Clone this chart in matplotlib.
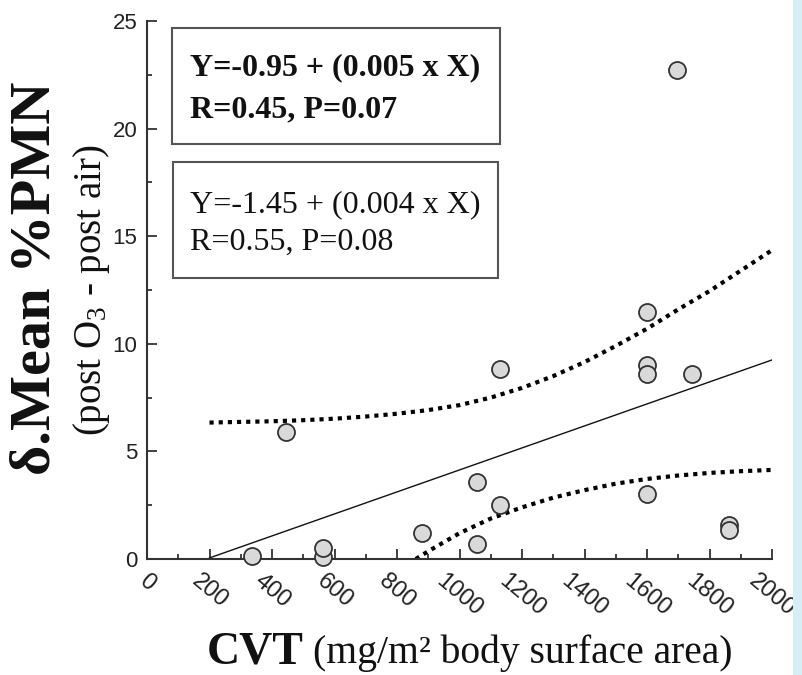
import matplotlib
matplotlib.use('Agg')
import matplotlib.pyplot as plt
from matplotlib.patches import Rectangle
from matplotlib.ticker import MultipleLocator

# scatter points
cvt = [337, 563, 563, 444, 881, 1055, 1055, 1130, 1130, 1599, 1599, 1599, 1599, 1695, 1743, 1863, 1863]
pmn = [0.15, 0.1, 0.5, 5.9, 1.2, 3.6, 0.7, 8.85, 2.5, 11.5, 9.0, 8.6, 3.0, 22.7, 8.6, 1.6, 1.35]

# fitted line end points
fit_x = [200, 2000]
fit_y = [0.05, 9.25]

# dotted confidence bands
upper_x = [200, 300, 400, 500, 600, 700, 800, 900, 1000, 1100, 1200, 1300, 1400, 1500, 1600, 1700, 1800, 1900, 2000]
upper_y = [6.34, 6.37, 6.4, 6.45, 6.52, 6.62, 6.75, 6.92, 7.15, 7.5, 7.95, 8.5, 9.15, 9.9, 10.7, 11.6, 12.45, 13.4, 14.35]
lower_x = [860, 900, 1000, 1100, 1200, 1300, 1400, 1500, 1600, 1700, 1800, 1900, 2000]
lower_y = [0.0, 0.36, 1.2, 1.88, 2.4, 2.85, 3.2, 3.5, 3.72, 3.88, 4.0, 4.08, 4.14]

box_bold = ['Y=-0.95 + (0.005 x X)', 'R=0.45, P=0.07']
box_plain = ['Y=-1.45 + (0.004 x X)', 'R=0.55, P=0.08']

x_ticks = list(range(0, 2001, 200))
y_ticks = [0, 5, 10, 15, 20, 25]

W, H = 803, 675
plt.rcParams['mathtext.fontset'] = 'custom'
plt.rcParams['mathtext.rm'] = 'Liberation Serif'
plt.rcParams['mathtext.it'] = 'Liberation Serif:italic'
plt.rcParams['mathtext.bf'] = 'Liberation Serif:bold'


def px(x, y):
    return x / W, 1 - y / H


fig = plt.figure(figsize=(W / 100, H / 100), dpi=100)
fig.patch.set_facecolor('white')
fig.patches.append(Rectangle(px(793, H), 10 / W, 1, transform=fig.transFigure,
                             facecolor='#d6eef5', edgecolor='none', zorder=0))

l, b = px(147, 559)
r, t = px(772, 21)
ax = fig.add_axes([l, b, r - l, t - b])
ax.set_xlim(0, 2000)
ax.set_ylim(0, 25)

ax.plot(fit_x, fit_y, color='#111111', lw=1.0, zorder=2)
ax.plot(upper_x, upper_y, color='black', lw=3, dashes=(1, 1.2), zorder=2)
ax.plot(lower_x, lower_y, color='black', lw=3, dashes=(1, 1.2), zorder=2)
ax.scatter(cvt, pmn, s=150, facecolor='#d9d9d9', edgecolor='#333333',
           linewidth=1.3, zorder=3, clip_on=False)

for side in ['top', 'right']:
    ax.spines[side].set_visible(False)
for side in ['left', 'bottom']:
    ax.spines[side].set_linewidth(1.5)
    ax.spines[side].set_color('#333333')

ax.set_xticks(x_ticks)
ax.set_yticks(y_ticks)
ax.xaxis.set_minor_locator(MultipleLocator(100))
ax.yaxis.set_minor_locator(MultipleLocator(2.5))
ax.tick_params(which='both', direction='in', color='#333333', width=1.3)
ax.tick_params(which='major', length=7)
ax.tick_params(which='minor', length=3.5)
ax.tick_params(axis='y', pad=7, labelsize=16, labelcolor='#222222')
ax.tick_params(axis='x', pad=8, labelsize=17, labelcolor='#222222')
for lab in ax.get_yticklabels() + ax.get_xticklabels():
    lab.set_fontfamily('Liberation Sans')
for lab in ax.get_xticklabels():
    lab.set_rotation(-40)
    lab.set_ha('center')
    lab.set_va('top')

# equation boxes
serif = 'Liberation Serif'
for (x0, y0, x1, y1) in [(172, 28, 500, 144), (173, 162, 498, 278)]:
    fig.patches.append(Rectangle(px(x0, y1), (x1 - x0) / W, (y1 - y0) / H,
                                 transform=fig.transFigure, facecolor='white',
                                 edgecolor='#555555', lw=1.5, zorder=4))
for txt, yb in zip(box_bold, [75, 117]):
    fig.text(*px(190, yb), txt, family=serif, weight='bold', size=23,
             ha='left', va='baseline', color='#111111', zorder=5)
for txt, yb in zip(box_plain, [212, 250]):
    fig.text(*px(190, yb), txt, family=serif, size=23,
             ha='left', va='baseline', color='#111111', zorder=5)

# axis titles
fig.text(*px(36, 278), 'δ.Mean %PMN', family=serif, weight='bold', size=42,
         rotation=90, ha='center', va='center', color='#111111')
fig.text(*px(92, 290), '(post O$_{3}$ - post air)', family=serif, size=28,
         rotation=90, ha='center', va='center', color='#111111')
fig.text(*px(207, 663), 'CVT', family=serif, weight='bold', size=33,
         ha='left', va='baseline', color='#111111')
fig.text(*px(313, 663), '(mg/m² body surface area)', family=serif, size=28.5,
         ha='left', va='baseline', color='#111111')

fig.savefig('out.png', dpi=100)
